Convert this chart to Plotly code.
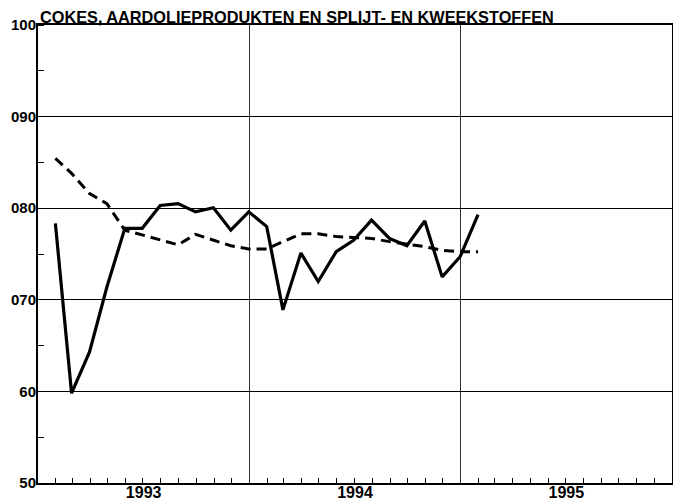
import pandas as pd
import plotly.graph_objects as go

months = pd.date_range("1993-01-31", periods=25, freq="ME")
actual = [78.35, 59.8, 64.3, 71.4, 77.8, 77.8, 80.3, 80.5, 79.6, 80.05, 77.6, 79.6,
          78.0, 68.9, 75.1, 72.0, 75.25, 76.5, 78.7, 76.7, 75.9, 78.6, 72.5, 74.7, 79.3]
trend = [85.45, 83.8, 81.6, 80.5, 77.6, 77.1, 76.5, 76.0, 77.15, 76.5, 75.9, 75.55,
         75.55, 76.35, 77.2, 77.2, 76.9, 76.8, 76.7, 76.35, 76.1, 75.8, 75.4, 75.25, 75.25]
y_tickvals = [50, 60, 70, 80, 90, 100]
y_ticktext = ["50", "60", "070", "080", "090", "100"]
title = "COKES, AARDOLIEPRODUKTEN EN SPLIJT- EN KWEEKSTOFFEN"

fig = go.Figure()
fig.add_trace(go.Scatter(x=months, y=trend, mode="lines",
                         line=dict(color="black", width=3, dash="10px,6px"),
                         showlegend=False, hoverinfo="skip"))
fig.add_trace(go.Scatter(x=months, y=actual, mode="lines",
                         line=dict(color="black", width=3.2),
                         showlegend=False, hoverinfo="skip"))

fam = "Liberation Sans, Arial, sans-serif"
xfont = dict(family=fam, size=16, color="black", weight="bold")
yfont = dict(family=fam, size=15, color="black", weight="bold")
tfont = dict(family=fam, size=16.3, color="black", weight="bold")
fig.update_layout(
    width=673, height=500,
    margin=dict(l=38, r=1, t=25, b=17),
    paper_bgcolor="white", plot_bgcolor="white",
    font=yfont,
    xaxis=dict(
        type="date", range=["1993-01-01", "1996-01-01"],
        dtick="M12", tick0="1993-01-01", tickformat="%Y", ticklabelmode="period",
        showgrid=True, gridcolor="#333", gridwidth=1,
        showline=True, linecolor="black", linewidth=2, mirror=True,
        ticks="", tickfont=xfont, automargin=False, ticklabelstandoff=-6,
        minor=dict(dtick="M1", tick0="1993-01-01", ticks="inside", ticklen=5,
                   tickcolor="black", showgrid=False),
        zeroline=False, fixedrange=True,
    ),
    yaxis=dict(
        range=[50, 100], tickvals=y_tickvals, ticktext=y_ticktext,
        showgrid=True, gridcolor="black", gridwidth=1,
        showline=True, linecolor="black", linewidth=2, mirror=True,
        ticks="", tickfont=yfont, automargin=False, ticklabelstandoff=-3,
        minor=dict(dtick=5, tick0=50, ticks="inside", ticklen=6,
                   tickcolor="black", showgrid=False),
        zeroline=False, fixedrange=True,
    ),
    annotations=[dict(text=title, xref="paper", yref="paper",
                      x=0, y=1, xanchor="left", yanchor="bottom", yshift=-3,
                      showarrow=False, font=tfont)],
)
fig.write_html("out.html", config={"displayModeBar": False},
               post_script="document.body.style.margin='0';document.body.style.overflow='hidden';")
